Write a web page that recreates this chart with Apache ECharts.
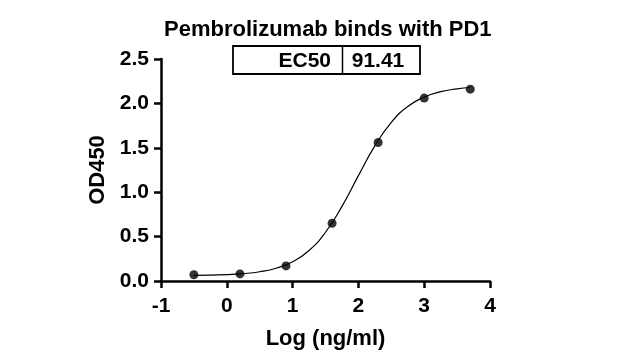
<!DOCTYPE html>
<html>
<head>
<meta charset="utf-8">
<script src="https://cdn.jsdelivr.net/npm/echarts@6/dist/echarts.min.js"></script>
<style>html,body{margin:0;padding:0;background:#fff}#c{width:620px;height:360px}</style>
</head>
<body>
<div id="c"></div>
<script>
var titleText = "Pembrolizumab binds with PD1";
var xName = "Log (ng/ml)";
var yName = "OD450";
var ec50Label = "EC50";
var ec50Value = "91.41";
var xTicks = [-1, 0, 1, 2, 3, 4];
var yTicks = ["0.0", "0.5", "1.0", "1.5", "2.0", "2.5"];
// measured points (log concentration, OD450)
var pointX = [-0.5, 0.2, 0.9, 1.6, 2.3, 3.0, 3.7];
var pointY = [0.07, 0.08, 0.17, 0.65, 1.56, 2.06, 2.16];
// fitted curve
var curveX = [-0.5, 0, 0.25, 0.5, 0.75, 1.0, 1.25, 1.5, 1.75, 2.0, 2.25, 2.5, 2.75, 3.0, 3.25, 3.5, 3.7];
var curveY = [0.063, 0.072, 0.083, 0.104, 0.144, 0.216, 0.343, 0.549, 0.840, 1.187, 1.522, 1.787, 1.965, 2.072, 2.132, 2.164, 2.179];

var FONT = "'Liberation Sans', Arial, sans-serif";
var chart = echarts.init(document.getElementById('c'), null, {renderer: 'canvas'});
var pts = pointX.map(function (x, i) { return [x, pointY[i]]; });
var crv = curveX.map(function (x, i) { return [x, curveY[i]]; });
function axisLine() { return {show: true, onZero: false, lineStyle: {color: '#000', width: 2.5}}; }
chart.setOption({
  animation: false,
  title: {
    text: titleText, left: 164, top: 19, padding: 0,
    textStyle: {fontFamily: FONT, fontWeight: 'bold', fontSize: 22, color: '#000'}
  },
  grid: {left: 161, right: 130, top: 59, bottom: 79, containLabel: false},
  xAxis: {
    type: 'value', min: xTicks[0], max: xTicks[xTicks.length - 1], interval: 1,
    name: xName, nameLocation: 'middle', nameGap: 47,
    nameTextStyle: {fontFamily: FONT, fontWeight: 'bold', fontSize: 22, color: '#000'},
    axisLine: axisLine(),
    axisTick: {show: true, length: 7, lineStyle: {color: '#000', width: 2.5}},
    axisLabel: {fontFamily: FONT, fontWeight: 'bold', fontSize: 21, color: '#000', margin: 15},
    splitLine: {show: false}
  },
  yAxis: {
    type: 'value', min: 0, max: 2.5, interval: 0.5,
    name: yName, nameLocation: 'middle', nameGap: 49, nameRotate: 90,
    nameTextStyle: {fontFamily: FONT, fontWeight: 'bold', fontSize: 22, color: '#000'},
    axisLine: axisLine(),
    axisTick: {show: true, length: 7, lineStyle: {color: '#000', width: 2.5}},
    axisLabel: {fontFamily: FONT, fontWeight: 'bold', fontSize: 21, color: '#000', margin: 12,
      formatter: function (v) { var i = Math.round(v / 0.5); return yTicks[i] !== undefined ? yTicks[i] : v.toFixed(1); }},
    splitLine: {show: false}
  },
  graphic: [
    {type: 'rect', shape: {x: 233, y: 46, width: 187, height: 28}, style: {fill: '#fff', stroke: '#000', lineWidth: 1.8}, z: 100},
    {type: 'line', shape: {x1: 342.5, y1: 46, x2: 342.5, y2: 74}, style: {stroke: '#000', lineWidth: 1.5}, z: 101},
    {type: 'text', x: 331, y: 61, style: {text: ec50Label, align: 'right', verticalAlign: 'middle', font: 'bold 21px ' + FONT, fill: '#000'}, z: 102},
    {type: 'text', x: 378, y: 61, style: {text: ec50Value, align: 'center', verticalAlign: 'middle', font: 'bold 21px ' + FONT, fill: '#000'}, z: 102}
  ],
  series: [
    {type: 'line', data: crv, smooth: true, showSymbol: false, symbol: 'none',
     lineStyle: {color: '#000', width: 1.2}},
    {type: 'scatter', data: pts, symbol: 'circle', symbolSize: 9,
     itemStyle: {color: '#000'}}
  ]
});
</script>
</body>
</html>
